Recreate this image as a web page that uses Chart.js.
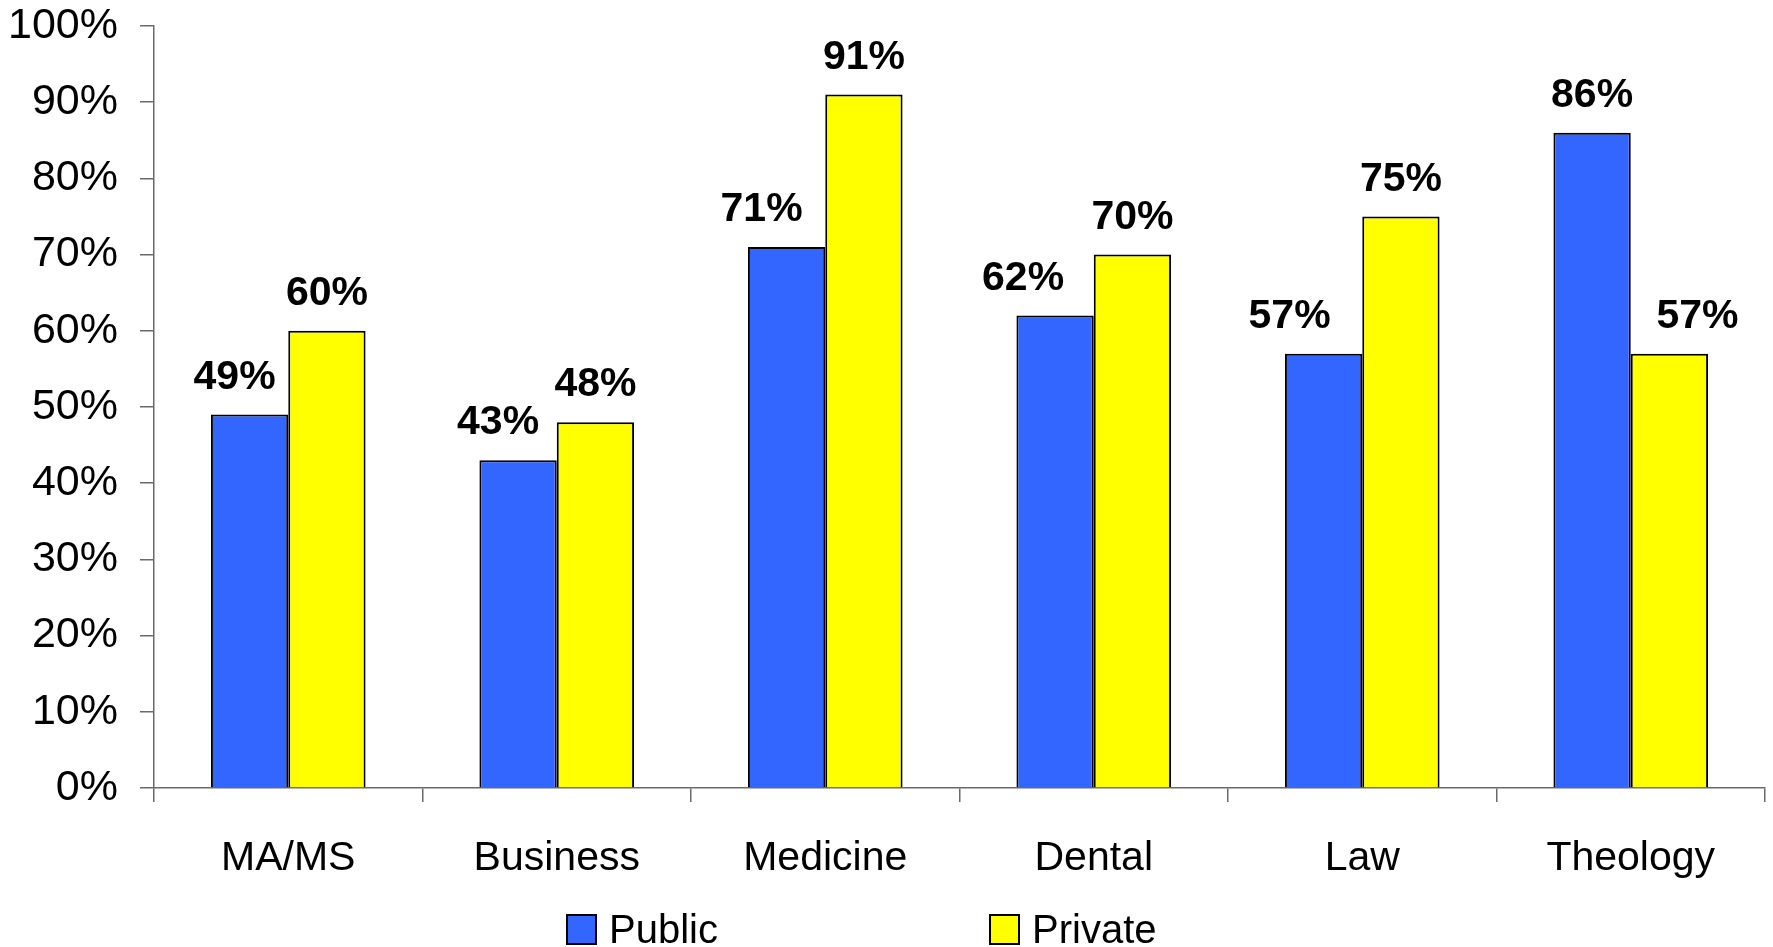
<!DOCTYPE html>
<html>
<head>
<meta charset="utf-8">
<script src="https://cdn.jsdelivr.net/npm/chart.js@4"></script>
<style>
  html, body { margin: 0; padding: 0; background: #fff; }
  canvas { display: block; }
</style>
</head>
<body>
<canvas id="grafico" width="1773" height="947"></canvas>
<script>
// degrees and the share for each type of school (in %)
const categorias = ['MA/MS', 'Business', 'Medicine', 'Dental', 'Law', 'Theology'];
const publico = [49, 43, 71, 62, 57, 86];
const privado = [60, 48, 91, 70, 75, 57];
const marcasY = [0, 10, 20, 30, 40, 50, 60, 70, 80, 90, 100];

// sideways nudge of the value labels so they don't crowd the neighbour bar
const desvioRotulo = [
    [-15, -20, -25, -32, -34, 0],
    [0, 0, 0, 0, 0, 28]
];

const fonte = '"Liberation Sans", Arial, sans-serif';
const corEixo = '#6a6a6a';

// value labels on top of the bars
const rotulos = {
    id: 'rotulos',
    afterDatasetsDraw(chart) {
        const c = chart.ctx;
        c.save();
        c.font = 'bold 41px ' + fonte;
        c.fillStyle = '#000';
        c.textAlign = 'center';
        c.textBaseline = 'alphabetic';
        chart.data.datasets.forEach((ds, i) => {
            chart.getDatasetMeta(i).data.forEach((barra, j) => {
                c.fillText(ds.data[j] + '%', barra.x + desvioRotulo[i][j], barra.y - 26);
            });
        });
        c.restore();
    }
};

// legend along the bottom edge
const legenda = {
    id: 'legenda',
    afterDraw(chart) {
        const c = chart.ctx;
        const area = chart.chartArea;
        c.save();
        c.font = '40px ' + fonte;
        c.textBaseline = 'alphabetic';
        chart.data.datasets.forEach((ds, i) => {
            const x = area.left + 413 + i * 423;
            const y = 915;
            c.fillStyle = ds.backgroundColor;
            c.fillRect(x, y, 29, 29);
            c.lineWidth = 2;
            c.strokeStyle = '#000';
            c.strokeRect(x, y, 29, 29);
            c.fillStyle = '#000';
            c.fillText(ds.label, x + 42, 943);
        });
        c.restore();
    }
};

new Chart(document.getElementById('grafico'), {
    type: 'bar',
    data: {
        labels: categorias,
        datasets: [{
            label: 'Public',
            data: publico,
            backgroundColor: '#3366FF',
            borderColor: '#000',
            borderWidth: 2,
            categoryPercentage: 0.576,
            barPercentage: 1
        }, {
            label: 'Private',
            data: privado,
            backgroundColor: '#FFFF00',
            borderColor: '#000',
            borderWidth: 2,
            categoryPercentage: 0.576,
            barPercentage: 1
        }]
    },
    options: {
        responsive: false,
        animation: false,
        layout: {
            padding: { left: 0, right: 8, top: 26, bottom: 0 }
        },
        plugins: {
            legend: { display: false },
            tooltip: { enabled: false }
        },
        scales: {
            x: {
                afterFit(scale) {
                    scale.height = 159;
                    scale.paddingLeft = 0;
                    scale.paddingRight = 0;
                },
                grid: {
                    offset: true,
                    drawOnChartArea: false,
                    tickLength: 14,
                    color: corEixo,
                    lineWidth: 1.5
                },
                border: { color: corEixo, width: 1.5 },
                ticks: {
                    color: '#000',
                    padding: 32,
                    font: { family: fonte, size: 41 }
                }
            },
            y: {
                min: 0,
                max: 100,
                afterBuildTicks(scale) {
                    scale.ticks = marcasY.map(v => ({ value: v }));
                },
                afterFit(scale) {
                    scale.width = 154;
                    scale.paddingTop = 0;
                    scale.paddingBottom = 0;
                },
                grid: {
                    drawOnChartArea: false,
                    tickLength: 14,
                    color: corEixo,
                    lineWidth: 1.5
                },
                border: { color: corEixo, width: 1.5 },
                ticks: {
                    color: '#000',
                    padding: 22,
                    font: { family: fonte, size: 43 },
                    callback: v => v + '%'
                }
            }
        }
    },
    plugins: [rotulos, legenda]
});
</script>
</body>
</html>
